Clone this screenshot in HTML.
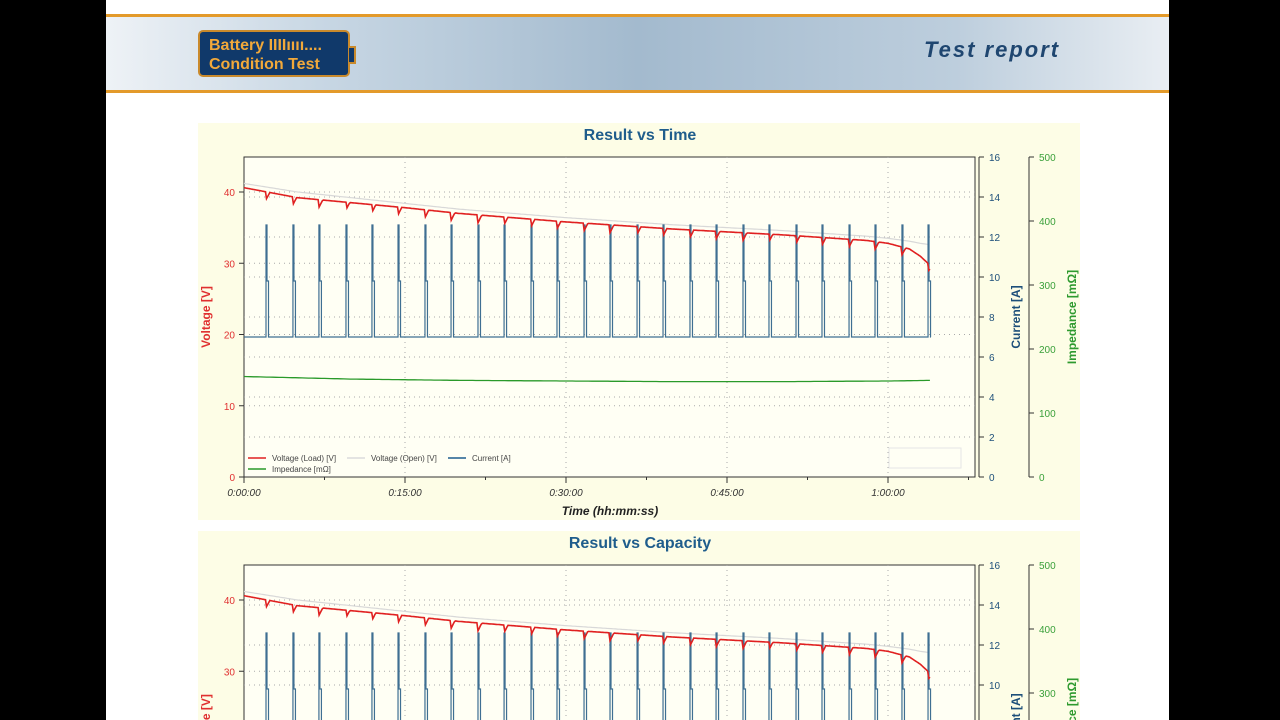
<!DOCTYPE html>
<html><head><meta charset="utf-8">
<style>
body{margin:0;width:1280px;height:720px;background:#000;overflow:hidden;font-family:"Liberation Sans",sans-serif;}
#page{position:absolute;left:106px;top:0;width:1063px;height:720px;background:#fff;}
#hdr{position:absolute;left:0;top:14px;width:1063px;height:73px;border-top:3px solid #e39a2a;border-bottom:3px solid #e39a2a;background:linear-gradient(90deg,#eef2f6 0%,#c8d7e4 20%,#a3bace 50%,#bdcedd 80%,#e9eef3 100%);}
#logo{position:absolute;left:92px;top:13px;width:152px;height:47px;background:#10396a;border:2px solid #c98a2c;border-radius:5px;color:#f2a93a;font-weight:bold;font-size:16px;line-height:19px;padding:4px 0 0 9px;box-sizing:border-box;}
#logo:after{content:"";position:absolute;right:-8px;top:14px;width:5px;height:14px;background:#10396a;border:2px solid #c98a2c;border-left:none;}
#tr{position:absolute;left:818px;top:20px;font-size:22px;font-weight:bold;font-style:italic;color:#1f4670;letter-spacing:2px;}
svg{position:absolute;left:0;top:0;overflow:hidden;}
</style></head><body>
<div id="page">
<div id="hdr">
<div id="logo">Battery IIIIıııı....<br>Condition Test</div>
<div id="tr">Test report</div>
</div></div>
<svg id="s" width="1280" height="720" viewBox="0 0 1280 720"><defs><clipPath id="clipAll"><rect x="0" y="0" width="1280" height="720"/></clipPath></defs></svg>
<script>
const pulseMin=[2.05,4.56,6.98,9.5,11.92,14.35,16.86,19.29,21.8,24.23,26.74,29.16,31.68,34.1,36.62,39.04,41.55,43.98,46.49,48.91,51.43,53.85,56.37,58.79,61.3,63.73];
const vMin=[0,5,10,15,20,25,30,35,40,45,50,55,58,60,62,63,64];
const vLoad=[40.6,39.2,38.5,37.8,37.0,36.4,35.8,35.3,34.8,34.4,34.0,33.5,33.2,32.8,32.0,31.0,29.6];
const vOpen=[41.2,40.0,39.2,38.4,37.6,37.0,36.4,35.9,35.4,35.0,34.6,34.1,33.8,33.5,33.1,32.8,32.6];
const impMin=[0,10,20,30,40,50,60,64];
const impVal=[157,153,151,150,149,149,150,151];
const curBase=7.0, curPeak=12.6, curStep=9.8;
const vTicks=[0,10,20,30,40], cTicks=[0,2,4,6,8,10,12,14,16], zTicks=[0,100,200,300,400,500];
const tTicks=["0:00:00","0:15:00","0:30:00","0:45:00","1:00:00"];
const NS="http://www.w3.org/2000/svg";
const S=document.getElementById('s');
const ROOT=(function(){const e=document.createElementNS(NS,'g');e.setAttribute('clip-path','url(#clipAll)');S.appendChild(e);return e;})();


function el(t,a,p){const e=document.createElementNS(NS,t);for(const k in a)e.setAttribute(k,a[k]);(p||ROOT).appendChild(e);return e;}
const X0=244,X1=975;
const xT=m=>X0+m*161/15;
function interp(xs,ys,x){for(let i=1;i<xs.length;i++){if(x<=xs[i]){const f=(x-xs[i-1])/(xs[i]-xs[i-1]);return ys[i-1]+f*(ys[i]-ys[i-1]);}}return ys[ys.length-1];}
function chart(oy,title,xlab,showX){
  const Y0=477+oy,Y1=157+oy;
  const yV=v=>Y0-v*7.125, yC=c=>Y0-c*20, yZ=z=>Y0-z*0.64;
  const g=el('g',{});
  
  
  let r=el('rect',{x:198,y:123+oy,width:882,height:397,fill:'#fdfde6'},g);
  
  r=el('rect',{x:X0,y:Y1,width:X1-X0,height:Y0-Y1,fill:'#fffff4',stroke:'#333','stroke-width':1},g);
  
  let t=el('text',{x:640,y:140+oy,'text-anchor':'middle','font-size':16,'font-weight':'bold',fill:'#1f5d8c'},g);t.textContent=title;
  
  cTicks.slice(1,-1).forEach(c=>{const l=el('line',{x1:X0,x2:X1,y1:yC(c),y2:yC(c),stroke:'#aaa','stroke-dasharray':'1,4'},g);});
  vTicks.slice(1).forEach(v=>{const l=el('line',{x1:X0,x2:X1,y1:yV(v),y2:yV(v),stroke:'#aaa','stroke-dasharray':'1,4'},g);});
  tTicks.forEach((s,i)=>{const x=xT(i*15);if(i>0){const l=el('line',{x1:x,x2:x,y1:Y1,y2:Y0,stroke:'#aaa','stroke-dasharray':'1,4'},g);}
    el('line',{x1:x,x2:x,y1:Y0,y2:Y0+6,stroke:'#333'},g);el('line',{x1:x+80.5,x2:x+80.5,y1:Y0,y2:Y0+3,stroke:'#333'},g);
    if(showX){const tx=el('text',{x:x,y:Y0+19,'text-anchor':'middle','font-size':10,'font-style':'italic',fill:'#333'},g);tx.textContent=s;}});
  vTicks.forEach(v=>{el('line',{x1:X0-5,x2:X0,y1:yV(v),y2:yV(v),stroke:'#333'},g);const tx=el('text',{x:X0-9,y:yV(v)+4,'text-anchor':'end','font-size':10,fill:'#e03030'},g);tx.textContent=v;});
  t=el('text',{transform:`translate(210,${(Y0+Y1)/2}) rotate(-90)`,'text-anchor':'middle','font-size':12,'font-weight':'bold',fill:'#e03030'},g);t.textContent='Voltage [V]';
  
  el('line',{x1:979,x2:979,y1:Y1,y2:Y0,stroke:'#333'},g);
  cTicks.forEach(c=>{el('line',{x1:979,x2:984,y1:yC(c),y2:yC(c),stroke:'#333'},g);const tx=el('text',{x:989,y:yC(c)+4,'font-size':10,fill:'#1d4f7a'},g);tx.textContent=c;});
  t=el('text',{transform:`translate(1020,${(Y0+Y1)/2}) rotate(-90)`,'text-anchor':'middle','font-size':12,'font-weight':'bold',fill:'#1d4f7a'},g);t.textContent='Current [A]';
  
  el('line',{x1:1029,x2:1029,y1:Y1,y2:Y0,stroke:'#333'},g);
  zTicks.forEach(z=>{el('line',{x1:1029,x2:1034,y1:yZ(z),y2:yZ(z),stroke:'#333'},g);const tx=el('text',{x:1039,y:yZ(z)+4,'font-size':10,fill:'#3aa03a'},g);tx.textContent=z;});
  t=el('text',{transform:`translate(1076,${(Y0+Y1)/2}) rotate(-90)`,'text-anchor':'middle','font-size':12,'font-weight':'bold',fill:'#2e9a2e'},g);t.textContent='Impedance [mΩ]';
  
  if(xlab){t=el('text',{x:610,y:Y0+38,'text-anchor':'middle','font-size':12,'font-weight':'bold','font-style':'italic',fill:'#222'},g);t.textContent=xlab;}
  let d='';const end=vMin[vMin.length-1];
  for(let m=0;m<=end;m+=0.2){d+=(d?'L':'M')+xT(m).toFixed(1)+','+yV(interp(vMin,vOpen,m)).toFixed(1);}
  let p=el('path',{d:d,fill:'none',stroke:'#d8d8d8','stroke-width':1.2},g);
  d='M'+xT(0)+','+yC(curBase);
  pulseMin.forEach(pm=>{const x=xT(pm);d+=`L${x},${yC(curBase)}L${x},${yC(curPeak)}L${x+1},${yC(curPeak)}L${x+1},${yC(curStep)}L${x+2.5},${yC(curStep)}L${x+2.5},${yC(curBase)}`;});
  d+=`L${xT(end)},${yC(curBase)}`;
  p=el('path',{d:d,fill:'none',stroke:'#3f6f92','stroke-width':1.2},g);
  d='';
  for(let m=0;m<=end;m+=0.1){let v=interp(vMin,vLoad,m);pulseMin.forEach(pm=>{const dt=m-pm;if(dt>=0&&dt<0.35)v-=1.1*(1-dt/0.35);});d+=(d?'L':'M')+xT(m).toFixed(1)+','+yV(v).toFixed(1);}
  p=el('path',{d:d,fill:'none',stroke:'#e02020','stroke-width':1.6},g);
  d='';
  for(let m=0;m<=end;m+=0.3){d+=(d?'L':'M')+xT(m).toFixed(1)+','+yZ(interp(impMin,impVal,m)).toFixed(1);}
  p=el('path',{d:d,fill:'none',stroke:'#2a9a2a','stroke-width':1.3},g);
  const lg=el('g',{'font-size':8,fill:'#444'},g);
  [[248,461,'#e02020','Voltage (Load) [V]'],[347,461,'#dcdcdc','Voltage (Open) [V]'],[448,461,'#1e5f8e','Current [A]'],[248,472,'#2a9a2a','Impedance [mΩ]']].forEach(a=>{
    el('line',{x1:a[0],x2:a[0]+18,y1:a[1]+oy-3,y2:a[1]+oy-3,stroke:a[2],'stroke-width':1.5},lg);
    const tx=el('text',{x:a[0]+24,y:a[1]+oy},lg);tx.textContent=a[3];});
  r=el('rect',{x:889,y:448+oy,width:72,height:20,fill:'none',stroke:'#e6e6e6'},g);
}
chart(0,'Result vs Time','Time (hh:mm:ss)',true);
chart(408,'Result vs Capacity','',false);
</script>
</body></html>
